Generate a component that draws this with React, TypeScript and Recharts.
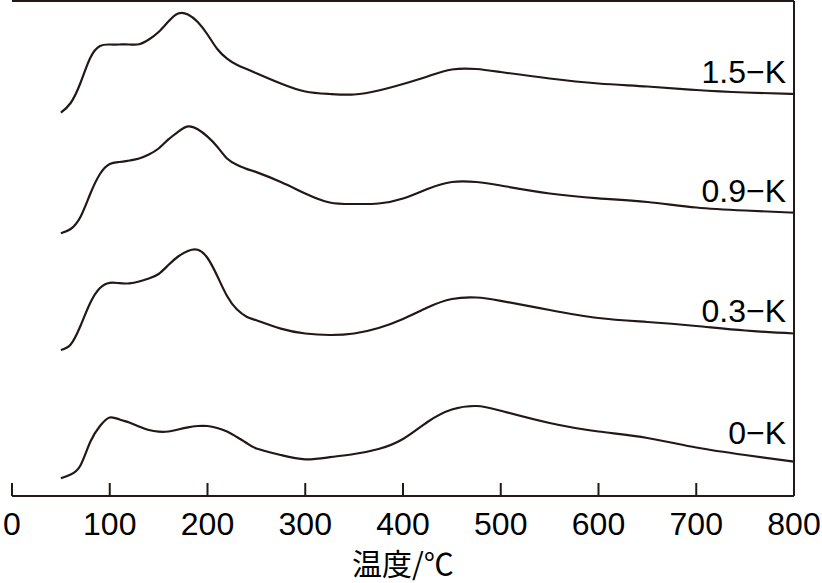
import React from 'react';
import { LineChart, Line, XAxis, YAxis, ReferenceLine, Label } from 'recharts';

// temperature grid (°C) shared by all four TPD curves
const temperatures = [
  50, 60, 70, 80, 90, 100, 110, 120, 130, 140, 150, 160, 170, 180, 190, 200, 210, 220, 230, 240,
  250, 275, 300, 325, 350, 375, 400, 425, 450, 475, 500, 550, 600, 650, 700, 750, 800,
];

// signal (arbitrary units, curves already offset vertically as in the figure)
const k15 = [
  383.3, 393, 413, 438, 450, 451.5, 451.5, 451.5, 451.7, 456.5, 464, 474.5, 482.5, 481.5, 474, 461.5, 447, 437.4, 431.2, 427,
  422.8, 412.5, 404.5, 402, 401.5, 405.5, 412, 419.5, 426.5, 427, 424, 417.5, 412.5, 409.5, 406, 403.5, 402,
];
const k09 = [
  262.7, 267, 279, 302, 322, 332, 334, 335.5, 337.5, 341.5, 347.5, 356.6, 364.3, 369.6, 366.7, 359.4, 349.3, 337.5, 331.3, 327.1,
  323.9, 314, 302.5, 293.5, 292, 292.5, 297.5, 307, 314, 314, 310.5, 302.5, 297.7, 294, 288.5, 285.5, 283.3,
];
const k03 = [
  146, 151.5, 170, 193, 208, 213.2, 212.8, 212.7, 214.5, 217.5, 222, 231, 239.5, 245, 246.2, 238, 220, 200, 186.7, 179.3,
  175.7, 167.4, 162.5, 161, 162.5, 168, 177, 188.5, 197, 198.5, 195.2, 186, 178, 174, 170, 165.5, 162.5,
];
const k0 = [
  17.7, 21.5, 30.5, 54, 70, 78.5, 76.5, 73.5, 69.5, 66, 64.3, 64.5, 66.5, 68.7, 70, 70, 68, 64.5, 59, 53,
  47.5, 41, 36.7, 38.8, 42, 47, 57, 74, 86.5, 90, 85.3, 73, 64.5, 58, 48.5, 41, 34.3,
];

const seriesKeys = ['k15', 'k09', 'k03', 'k0'];
const seriesNames = ['1.5\u2212K', '0.9\u2212K', '0.3\u2212K', '0\u2212K'];
const xTicks = [0, 100, 200, 300, 400, 500, 600, 700, 800];
const xTitle = '温度/℃';

const data = temperatures.map((t, i) => ({ t, k15: k15[i], k09: k09[i], k03: k03[i], k0: k0[i] }));

const INK = '#231815';
const FONT = '"Liberation Sans", Arial, Helvetica, sans-serif';
// how far above the curve end each name sits
const labelLift = [11, 11, 12, 18];

const renderTick = (props: any) => {
  const { x, y, payload } = props;
  return (
    <g>
      <line x1={x} x2={x} y1={y} y2={y - 13} stroke={INK} strokeWidth={2} />
      <text x={x} y={y + 39} textAnchor="middle" fontSize={32} fontFamily={FONT} fill="#000">
        {payload.value}
      </text>
    </g>
  );
};

const endLabel = (name: string, lift: number) => (props: any) => {
  const { x, y, index } = props;
  if (index !== temperatures.length - 1) return null;
  return (
    <text x={x - 8} y={y - lift} textAnchor="end" fontSize={32} fontFamily={FONT} fill="#000">
      {name}
    </text>
  );
};

export default function App() {
  return (
    <div style={{ position: 'absolute', left: 0, top: 0, background: '#fff' }}>
      <LineChart width={822} height={583} data={data} margin={{ top: 1, right: 28, bottom: 0, left: 12 }}>
        <XAxis
          dataKey="t"
          type="number"
          domain={[0, 800]}
          ticks={xTicks}
          interval={0}
          tickLine={false}
          tickSize={0}
          tickMargin={0}
          tick={renderTick}
          height={87}
          axisLine={{ stroke: INK, strokeWidth: 2 }}
        >
          <Label
            value={xTitle}
            position="insideBottom"
            offset={8}
            fontSize={30}
            fill="#000"
            fontFamily='"Noto Sans CJK JP", sans-serif'
          />
        </XAxis>
        <YAxis
          type="number"
          domain={[0, 495]}
          allowDataOverflow
          width={0}
          tick={false}
          tickLine={false}
          axisLine={{ stroke: INK, strokeWidth: 2 }}
        />
        <ReferenceLine y={495} stroke={INK} strokeWidth={2} />
        <ReferenceLine x={800} stroke={INK} strokeWidth={2} />
        {seriesKeys.map((k, i) => (
          <Line
            key={k}
            dataKey={k}
            type="natural"
            stroke={INK}
            strokeWidth={2.2}
            dot={false}
            isAnimationActive={false}
            label={endLabel(seriesNames[i], labelLift[i])}
          />
        ))}
      </LineChart>
    </div>
  );
}
